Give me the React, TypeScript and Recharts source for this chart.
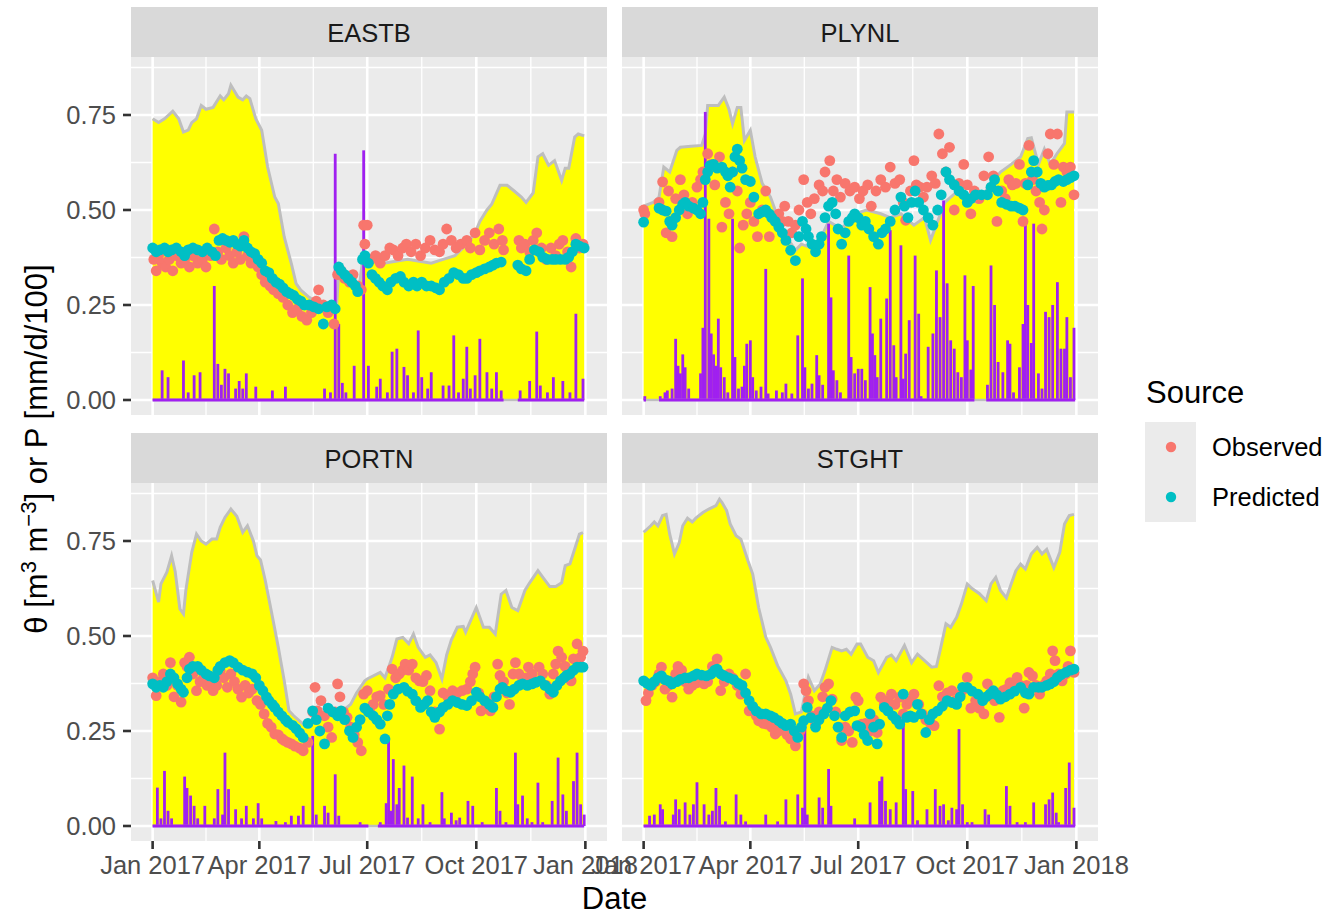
import React from 'react';
import {
  ComposedChart,
  Area,
  Bar,
  Scatter,
  XAxis,
  YAxis,
  CartesianGrid,
  ReferenceLine,
} from 'recharts';

const FONT = "'Liberation Sans', Arial, Helvetica, sans-serif";

// axis breaks (day of year, 0 = 1 Jan 2017)
const xTickDays = [0, 90, 181, 273, 365];
const xTickLabels = ['Jan 2017', 'Apr 2017', 'Jul 2017', 'Oct 2017', 'Jan 2018'];
const xMinorDays = [45, 135.5, 227, 319];
const yTicks = [0, 0.25, 0.5, 0.75];
const yMinor = [0.125, 0.375, 0.625, 0.875];
const X_DOMAIN = [-18.25, 383.25];
const Y_DOMAIN = [-0.0395, 0.9026];

type Pair = [number, number];

// ---- EASTB ----
const eastbSat: Pair[] = [[0,0.74],[5,0.73],[10,0.74],[17,0.76],[22,0.74],[26,0.705],[30,0.71],[33,0.73],[37,0.74],[41,0.775],[45,0.765],[51,0.77],[57,0.8],[60,0.79],[64,0.806],[66,0.828],[72,0.797],[76,0.79],[79,0.8],[82,0.793],[87,0.74],[92,0.71],[97,0.613],[103,0.534],[106,0.517],[111,0.429],[117,0.359],[121,0.306],[125,0.289],[132,0.27],[140,0.255],[148,0.245],[155,0.24],[157,0.34],[163,0.32],[170,0.3],[174,0.29],[178,0.39],[185,0.37],[195,0.36],[205,0.365],[215,0.37],[225,0.365],[235,0.36],[245,0.37],[255,0.38],[265,0.41],[272,0.44],[276,0.47],[282,0.5],[286,0.515],[293,0.565],[299,0.565],[305,0.55],[311,0.534],[315,0.52],[321,0.545],[325,0.64],[329,0.648],[334,0.618],[339,0.63],[345,0.578],[348,0.61],[351,0.61],[356,0.692],[359,0.7],[364,0.695]];
const eastbRain: Pair[] = [[8,0.078],[13,0.06],[26,0.104],[30,0.02],[35,0.065],[40,0.073],[52,0.3],[55,0.095],[58,0.04],[61,0.082],[64,0.07],[70,0.03],[73,0.05],[76,0.03],[79,0.07],[87,0.035],[101,0.025],[112,0.035],[145,0.03],[150,0.02],[154,0.648],[157,0.2],[160,0.045],[163,0.02],[170,0.09],[178,0.657],[182,0.09],[189,0.035],[192,0.056],[198,0.02],[202,0.127],[206,0.135],[212,0.087],[215,0.065],[220,0.02],[224,0.183],[227,0.06],[232,0.03],[235,0.073],[245,0.038],[250,0.038],[254,0.17],[258,0.02],[262,0.056],[265,0.14],[268,0.03],[272,0.065],[276,0.161],[282,0.073],[286,0.03],[290,0.073],[294,0.025],[310,0.025],[318,0.05],[324,0.18],[327,0.038],[333,0.02],[338,0.06],[346,0.05],[352,0.02],[357,0.227],[363,0.056]];
const eastbRainSpans: Pair[] = [[0,296],[308,364]];
const eastbObs: Pair[] = [[1,0.37],[3,0.34],[5,0.38],[8,0.36],[11,0.35],[14,0.37],[17,0.34],[20,0.38],[24,0.36],[27,0.37],[31,0.35],[34,0.38],[38,0.36],[42,0.37],[45,0.35],[49,0.38],[52,0.45],[55,0.39],[58,0.37],[62,0.4],[65,0.38],[68,0.36],[71,0.39],[74,0.37],[77,0.43],[80,0.38],[83,0.36],[86,0.37],[89,0.35],[92,0.33],[95,0.31],[99,0.3],[102,0.29],[106,0.28],[110,0.27],[114,0.25],[118,0.23],[122,0.24],[126,0.22],[130,0.21],[134,0.23],[138,0.26],[140,0.29],[144,0.25],[148,0.23],[153,0.2],[156,0.33],[159,0.34],[162,0.32],[166,0.31],[169,0.33],[173,0.3],[176,0.29],[178,0.46],[179,0.41],[181,0.46],[184,0.37],[188,0.38],[192,0.36],[196,0.38],[200,0.4],[203,0.395],[207,0.38],[211,0.4],[214,0.41],[218,0.39],[222,0.41],[226,0.38],[230,0.4],[234,0.42],[238,0.395],[242,0.39],[245,0.41],[248,0.45],[252,0.42],[256,0.4],[260,0.41],[265,0.42],[268,0.4],[272,0.44],[276,0.395],[280,0.42],[284,0.44],[288,0.41],[292,0.45],[295,0.42],[296,0.395],[309,0.42],[311,0.4],[314,0.41],[318,0.39],[321,0.42],[324,0.44],[328,0.4],[332,0.37],[336,0.4],[340,0.38],[343,0.41],[346,0.42],[350,0.39],[353,0.35],[357,0.425],[360,0.4],[363,0.41]];
const eastbPred: Pair[] = [[0,0.4],[3,0.39],[6,0.395],[10,0.4],[13,0.39],[16,0.395],[20,0.4],[24,0.39],[27,0.38],[30,0.395],[34,0.4],[38,0.395],[42,0.39],[46,0.4],[50,0.39],[53,0.38],[56,0.42],[59,0.425],[62,0.42],[65,0.415],[68,0.42],[71,0.41],[74,0.405],[77,0.42],[80,0.4],[83,0.39],[86,0.385],[89,0.37],[92,0.36],[95,0.34],[98,0.335],[101,0.32],[104,0.31],[107,0.305],[110,0.295],[113,0.285],[116,0.28],[119,0.275],[122,0.265],[125,0.26],[128,0.25],[132,0.25],[136,0.245],[140,0.24],[144,0.2],[147,0.245],[151,0.25],[154,0.24],[157,0.35],[159,0.34],[162,0.33],[165,0.32],[168,0.31],[171,0.3],[173,0.285],[177,0.37],[179,0.38],[182,0.36],[185,0.33],[188,0.32],[191,0.31],[194,0.3],[198,0.29],[201,0.31],[205,0.32],[209,0.325],[212,0.31],[216,0.3],[220,0.31],[223,0.3],[227,0.31],[231,0.3],[235,0.3],[239,0.295],[242,0.29],[246,0.31],[250,0.32],[254,0.335],[258,0.33],[262,0.32],[265,0.32],[269,0.33],[273,0.335],[276,0.34],[280,0.345],[284,0.35],[287,0.355],[290,0.36],[294,0.363],[308,0.355],[311,0.345],[315,0.34],[318,0.37],[322,0.395],[326,0.39],[329,0.376],[333,0.37],[337,0.37],[340,0.37],[344,0.37],[348,0.37],[351,0.376],[354,0.39],[357,0.41],[360,0.405],[364,0.4]];

// ---- PLYNL ----
const plynlSat: Pair[] = [[0,0.51],[8,0.52],[13,0.534],[17,0.613],[22,0.6],[28,0.657],[31,0.665],[40,0.668],[49,0.67],[52,0.7],[54,0.775],[63,0.775],[68,0.797],[72,0.765],[75,0.727],[79,0.77],[82,0.77],[85,0.683],[90,0.71],[94,0.64],[100,0.57],[107,0.534],[117,0.447],[128,0.394],[133,0.41],[142,0.4],[150,0.43],[156,0.47],[167,0.45],[178,0.49],[188,0.5],[200,0.49],[208,0.48],[217,0.49],[228,0.46],[237,0.48],[242,0.42],[248,0.47],[254,0.52],[265,0.55],[272,0.53],[282,0.52],[293,0.57],[301,0.6],[310,0.62],[318,0.64],[324,0.688],[327,0.69],[333,0.62],[338,0.66],[343,0.62],[349,0.65],[355,0.675],[357,0.758],[363,0.758]];
const plynlRain: Pair[] = [[1,0.01],[14,0.01],[18,0.02],[20,0.025],[24,0.03],[27,0.161],[29,0.09],[31,0.07],[33,0.12],[35,0.086],[38,0.03],[48,0.07],[50,0.19],[52,0.758],[55,0.477],[57,0.175],[59,0.12],[61,0.09],[63,0.214],[65,0.086],[68,0.06],[71,0.02],[75,0.477],[77,0.113],[80,0.03],[83,0.035],[85,0.09],[87,0.148],[90,0.157],[92,0.06],[95,0.025],[99,0.035],[103,0.345],[105,0.017],[112,0.025],[117,0.02],[120,0.043],[125,0.017],[130,0.17],[134,0.32],[136,0.086],[139,0.03],[142,0.043],[146,0.118],[148,0.065],[151,0.04],[156,0.464],[158,0.27],[160,0.078],[163,0.052],[166,0.02],[173,0.38],[175,0.113],[178,0.07],[181,0.082],[184,0.082],[187,0.052],[191,0.297],[193,0.175],[195,0.118],[197,0.06],[200,0.214],[205,0.267],[208,0.447],[211,0.144],[213,0.06],[217,0.407],[219,0.056],[221,0.122],[224,0.21],[229,0.38],[232,0.227],[234,0.01],[240,0.14],[244,0.175],[247,0.341],[250,0.218],[253,0.525],[256,0.307],[259,0.157],[262,0.135],[265,0.073],[268,0.06],[271,0.328],[273,0.157],[276,0.08],[278,0.3],[290,0.04],[293,0.354],[296,0.25],[299,0.1],[303,0.073],[307,0.157],[309,0.148],[312,0.02],[317,0.086],[320,0.2],[322,0.464],[324,0.25],[327,0.15],[329,0.464],[333,0.07],[336,0.03],[339,0.232],[342,0.218],[345,0.25],[349,0.31],[352,0.135],[355,0.135],[357,0.218],[360,0.06],[363,0.19]];
const plynlRainSpans: Pair[] = [[0,2],[13,279],[289,364]];
const plynlObs: Pair[] = [[0,0.5],[1,0.49],[13,0.52],[16,0.574],[19,0.44],[21,0.55],[24,0.43],[27,0.53],[31,0.58],[34,0.54],[37,0.49],[41,0.52],[45,0.56],[48,0.58],[50,0.6],[54,0.648],[57,0.62],[60,0.566],[64,0.64],[66,0.455],[69,0.52],[72,0.49],[75,0.6],[79,0.55],[81,0.4],[84,0.46],[87,0.49],[90,0.52],[93,0.47],[96,0.43],[100,0.5],[103,0.55],[106,0.43],[110,0.48],[114,0.49],[117,0.47],[119,0.51],[122,0.47],[125,0.44],[128,0.46],[131,0.5],[135,0.58],[138,0.52],[141,0.49],[144,0.53],[148,0.566],[151,0.55],[153,0.6],[157,0.63],[160,0.55],[163,0.58],[166,0.534],[170,0.57],[174,0.55],[178,0.56],[182,0.53],[185,0.55],[189,0.566],[192,0.51],[196,0.55],[200,0.58],[204,0.56],[208,0.613],[212,0.57],[216,0.58],[219,0.52],[221,0.473],[225,0.55],[228,0.63],[230,0.566],[233,0.56],[236,0.534],[239,0.56],[243,0.59],[246,0.57],[249,0.7],[252,0.648],[255,0.6],[258,0.665],[262,0.5],[266,0.57],[270,0.62],[273,0.566],[276,0.49],[279,0.55],[283,0.53],[287,0.59],[291,0.64],[295,0.59],[298,0.47],[302,0.55],[305,0.53],[308,0.58],[311,0.566],[314,0.57],[317,0.62],[320,0.47],[322,0.57],[325,0.67],[328,0.58],[331,0.55],[334,0.52],[336,0.45],[338,0.5],[341,0.648],[343,0.7],[346,0.62],[349,0.7],[352,0.52],[354,0.613],[357,0.6],[360,0.613],[363,0.54]];
const plynlPred: Pair[] = [[0,0.468],[13,0.505],[16,0.5],[19,0.497],[22,0.47],[24,0.46],[27,0.48],[30,0.5],[33,0.515],[35,0.52],[38,0.51],[42,0.505],[45,0.5],[48,0.49],[50,0.52],[52,0.58],[54,0.6],[56,0.617],[59,0.62],[62,0.61],[66,0.613],[69,0.6],[71,0.59],[73,0.56],[75,0.6],[77,0.64],[79,0.66],[81,0.63],[83,0.61],[86,0.58],[90,0.575],[93,0.534],[97,0.49],[100,0.495],[103,0.5],[106,0.49],[108,0.48],[111,0.47],[114,0.455],[117,0.44],[120,0.42],[124,0.394],[128,0.367],[131,0.43],[134,0.47],[137,0.45],[139,0.43],[142,0.41],[145,0.39],[148,0.41],[150,0.43],[153,0.48],[156,0.51],[159,0.52],[162,0.49],[164,0.45],[167,0.41],[170,0.44],[173,0.47],[176,0.48],[178,0.49],[181,0.48],[184,0.46],[187,0.47],[190,0.45],[194,0.43],[198,0.41],[201,0.44],[204,0.45],[208,0.47],[212,0.5],[217,0.534],[220,0.51],[223,0.48],[226,0.52],[229,0.55],[232,0.52],[236,0.5],[240,0.48],[244,0.46],[248,0.5],[251,0.54],[255,0.6],[258,0.58],[262,0.566],[266,0.55],[270,0.54],[273,0.52],[276,0.53],[280,0.54],[285,0.54],[290,0.54],[293,0.56],[296,0.58],[299,0.55],[302,0.52],[306,0.515],[310,0.51],[313,0.51],[317,0.505],[320,0.5],[324,0.566],[327,0.6],[329,0.63],[332,0.6],[335,0.57],[338,0.56],[341,0.565],[344,0.566],[347,0.575],[350,0.58],[354,0.575],[357,0.58],[360,0.585],[363,0.59]];

// ---- PORTN ----
const portnSat: Pair[] = [[0,0.646],[5,0.589],[7,0.637],[12,0.668],[16,0.711],[19,0.67],[23,0.571],[26,0.558],[28,0.62],[33,0.72],[37,0.768],[41,0.75],[45,0.742],[50,0.755],[54,0.755],[57,0.786],[61,0.812],[66,0.834],[71,0.815],[76,0.773],[80,0.79],[85,0.75],[88,0.711],[91,0.7],[95,0.646],[100,0.567],[106,0.47],[111,0.382],[115,0.303],[119,0.29],[127,0.268],[135,0.28],[145,0.295],[155,0.3],[163,0.31],[167,0.32],[172,0.35],[179,0.382],[181,0.387],[192,0.404],[196,0.39],[202,0.444],[206,0.492],[211,0.496],[216,0.48],[220,0.505],[224,0.47],[230,0.444],[234,0.45],[239,0.43],[244,0.387],[248,0.45],[252,0.49],[257,0.523],[262,0.525],[264,0.51],[273,0.575],[279,0.523],[284,0.523],[289,0.505],[294,0.61],[298,0.62],[303,0.575],[308,0.567],[314,0.62],[318,0.64],[325,0.672],[329,0.655],[335,0.63],[340,0.63],[345,0.64],[348,0.685],[352,0.69],[356,0.729],[360,0.768],[363,0.772]];
const portnRain: Pair[] = [[4,0.101],[7,0.02],[10,0.145],[13,0.04],[16,0.02],[27,0.13],[29,0.1],[32,0.08],[35,0.053],[38,0.02],[44,0.053],[52,0.02],[55,0.097],[59,0.03],[61,0.193],[64,0.097],[70,0.044],[75,0.02],[79,0.053],[85,0.02],[89,0.06],[92,0.02],[104,0.013],[112,0.01],[117,0.027],[123,0.027],[127,0.053],[135,0.237],[138,0.03],[145,0.053],[148,0.035],[154,0.136],[157,0.027],[175,0.01],[192,0.01],[197,0.06],[199,0.233],[201,0.04],[203,0.176],[206,0.057],[208,0.1],[212,0.159],[215,0.022],[219,0.13],[224,0.02],[228,0.057],[234,0.01],[244,0.089],[246,0.02],[252,0.035],[256,0.015],[259,0.022],[266,0.066],[270,0.053],[278,0.01],[290,0.1],[293,0.04],[298,0.01],[306,0.193],[308,0.057],[312,0.08],[316,0.02],[320,0.01],[325,0.114],[329,0.01],[337,0.066],[342,0.18],[346,0.083],[349,0.04],[355,0.118],[358,0.193],[361,0.057],[364,0.03]];
const portnRainSpans: Pair[] = [[0,182],[190,364]];
const portnObs: Pair[] = [[0,0.39],[3,0.343],[6,0.38],[9,0.4],[12,0.37],[15,0.43],[18,0.34],[21,0.37],[24,0.326],[27,0.43],[29,0.42],[31,0.444],[34,0.4],[37,0.356],[40,0.38],[43,0.39],[46,0.37],[49,0.38],[51,0.356],[54,0.37],[57,0.408],[60,0.39],[63,0.365],[66,0.4],[69,0.38],[72,0.36],[75,0.339],[78,0.37],[81,0.35],[84,0.36],[88,0.33],[91,0.32],[94,0.295],[97,0.27],[100,0.26],[103,0.242],[106,0.24],[109,0.23],[111,0.225],[114,0.22],[117,0.216],[120,0.21],[124,0.205],[127,0.198],[131,0.22],[135,0.3],[137,0.365],[139,0.303],[142,0.33],[145,0.29],[148,0.26],[151,0.233],[154,0.3],[156,0.374],[158,0.34],[161,0.3],[164,0.286],[167,0.26],[170,0.24],[173,0.22],[176,0.198],[178,0.347],[181,0.356],[183,0.303],[186,0.32],[189,0.34],[192,0.343],[195,0.32],[199,0.36],[202,0.413],[205,0.39],[208,0.4],[211,0.41],[213,0.426],[216,0.41],[219,0.426],[222,0.39],[225,0.382],[228,0.38],[231,0.396],[234,0.356],[238,0.3],[242,0.255],[245,0.35],[249,0.34],[253,0.356],[257,0.35],[261,0.356],[265,0.36],[268,0.38],[270,0.4],[272,0.418],[275,0.35],[277,0.303],[281,0.31],[285,0.303],[288,0.34],[291,0.426],[293,0.396],[296,0.38],[299,0.35],[301,0.32],[304,0.4],[306,0.43],[309,0.4],[312,0.38],[315,0.39],[317,0.418],[320,0.4],[323,0.38],[326,0.418],[329,0.4],[332,0.37],[335,0.347],[338,0.4],[340,0.426],[342,0.46],[345,0.444],[348,0.42],[351,0.4],[353,0.382],[355,0.44],[358,0.479],[361,0.444],[363,0.46]];
const portnPred: Pair[] = [[0,0.374],[3,0.365],[6,0.37],[9,0.365],[12,0.38],[15,0.4],[18,0.39],[21,0.374],[24,0.36],[26,0.352],[29,0.39],[31,0.413],[34,0.42],[38,0.42],[41,0.41],[45,0.4],[48,0.395],[52,0.39],[55,0.41],[57,0.42],[61,0.43],[65,0.435],[68,0.43],[72,0.418],[76,0.41],[80,0.405],[84,0.4],[87,0.39],[90,0.37],[93,0.356],[96,0.34],[98,0.33],[101,0.32],[103,0.312],[106,0.3],[109,0.29],[112,0.28],[114,0.273],[118,0.265],[121,0.256],[124,0.245],[127,0.233],[131,0.27],[135,0.303],[138,0.28],[141,0.25],[145,0.216],[148,0.31],[152,0.3],[156,0.29],[159,0.303],[162,0.28],[166,0.25],[169,0.233],[172,0.26],[175,0.28],[179,0.31],[182,0.3],[186,0.29],[189,0.28],[192,0.268],[196,0.229],[198,0.29],[200,0.32],[203,0.347],[207,0.36],[212,0.365],[215,0.355],[219,0.347],[222,0.33],[226,0.312],[229,0.32],[232,0.33],[235,0.3],[238,0.286],[242,0.3],[245,0.312],[249,0.32],[253,0.33],[257,0.325],[261,0.32],[265,0.317],[269,0.33],[273,0.352],[276,0.34],[280,0.33],[284,0.32],[287,0.312],[290,0.34],[293,0.36],[295,0.365],[299,0.355],[302,0.352],[305,0.36],[309,0.37],[312,0.374],[316,0.37],[320,0.374],[323,0.378],[327,0.382],[331,0.37],[335,0.36],[338,0.352],[341,0.37],[344,0.382],[347,0.39],[349,0.396],[352,0.4],[355,0.41],[358,0.418],[361,0.418],[363,0.418]];

// ---- STGHT ----
const stghtSat: Pair[] = [[0,0.773],[6,0.79],[9,0.8],[12,0.79],[16,0.817],[19,0.82],[22,0.768],[26,0.716],[30,0.745],[33,0.79],[37,0.81],[41,0.8],[44,0.81],[50,0.825],[55,0.834],[61,0.843],[64,0.86],[66,0.852],[70,0.83],[73,0.795],[78,0.764],[82,0.755],[88,0.698],[92,0.663],[97,0.575],[103,0.497],[107,0.47],[113,0.422],[120,0.382],[124,0.347],[128,0.295],[133,0.3],[139,0.391],[144,0.356],[149,0.374],[153,0.409],[159,0.47],[163,0.465],[167,0.461],[171,0.465],[175,0.452],[180,0.479],[183,0.479],[189,0.444],[194,0.435],[198,0.404],[205,0.444],[209,0.45],[213,0.435],[220,0.475],[226,0.43],[231,0.452],[237,0.435],[243,0.418],[247,0.42],[250,0.461],[255,0.532],[259,0.523],[264,0.549],[268,0.584],[273,0.637],[277,0.625],[283,0.612],[289,0.593],[293,0.637],[297,0.654],[301,0.62],[306,0.6],[310,0.637],[314,0.672],[318,0.689],[322,0.676],[327,0.716],[332,0.733],[336,0.716],[340,0.728],[346,0.68],[351,0.72],[355,0.795],[359,0.817],[363,0.82]];
const stghtRain: Pair[] = [[5,0.027],[9,0.03],[14,0.057],[16,0.044],[25,0.03],[27,0.07],[30,0.044],[35,0.062],[39,0.03],[42,0.057],[45,0.115],[51,0.057],[55,0.03],[58,0.04],[61,0.1],[64,0.053],[69,0.012],[78,0.083],[82,0.03],[86,0.012],[103,0.03],[113,0.012],[120,0.07],[130,0.083],[134,0.048],[136,0.268],[138,0.03],[148,0.075],[151,0.048],[156,0.15],[158,0.053],[178,0.02],[191,0.062],[199,0.118],[201,0.13],[204,0.066],[208,0.044],[213,0.062],[219,0.286],[221,0.097],[227,0.092],[231,0.015],[239,0.044],[246,0.097],[250,0.053],[253,0.057],[257,0.015],[260,0.048],[264,0.044],[266,0.255],[269,0.057],[273,0.01],[277,0.01],[288,0.044],[291,0.03],[306,0.105],[309,0.053],[315,0.01],[322,0.01],[329,0.062],[339,0.057],[342,0.07],[345,0.088],[348,0.035],[350,0.01],[356,0.1],[359,0.167],[363,0.048]];
const stghtRainSpans: Pair[] = [[0,364]];
const stghtObs: Pair[] = [[2,0.33],[4,0.35],[7,0.37],[10,0.38],[13,0.4],[15,0.418],[18,0.36],[21,0.37],[24,0.339],[27,0.4],[29,0.42],[32,0.41],[35,0.38],[38,0.36],[41,0.37],[45,0.377],[48,0.39],[51,0.374],[54,0.38],[58,0.42],[62,0.44],[65,0.356],[68,0.38],[72,0.4],[75,0.39],[79,0.37],[82,0.347],[86,0.4],[89,0.303],[92,0.31],[95,0.29],[97,0.277],[101,0.27],[104,0.268],[108,0.26],[111,0.242],[114,0.25],[117,0.268],[121,0.24],[124,0.229],[128,0.211],[132,0.25],[135,0.374],[137,0.356],[139,0.33],[142,0.29],[145,0.268],[148,0.3],[151,0.34],[153,0.365],[156,0.374],[159,0.334],[162,0.3],[165,0.26],[167,0.225],[170,0.26],[173,0.25],[176,0.22],[179,0.339],[181,0.33],[184,0.268],[187,0.27],[191,0.25],[194,0.28],[197,0.246],[200,0.339],[203,0.32],[206,0.33],[209,0.347],[212,0.32],[216,0.339],[219,0.295],[222,0.32],[225,0.33],[228,0.347],[232,0.32],[235,0.295],[238,0.28],[242,0.27],[245,0.264],[249,0.369],[252,0.34],[256,0.35],[260,0.356],[263,0.33],[267,0.347],[270,0.36],[273,0.391],[276,0.31],[280,0.33],[283,0.31],[287,0.295],[290,0.374],[293,0.35],[296,0.33],[300,0.286],[303,0.356],[306,0.36],[309,0.377],[312,0.37],[315,0.391],[318,0.37],[321,0.31],[323,0.37],[325,0.404],[328,0.395],[331,0.37],[334,0.347],[337,0.37],[340,0.382],[343,0.4],[345,0.461],[347,0.435],[350,0.4],[353,0.382],[356,0.4],[358,0.42],[360,0.461],[363,0.404]];
const stghtPred: Pair[] = [[0,0.382],[3,0.375],[6,0.37],[9,0.38],[12,0.39],[15,0.395],[18,0.385],[21,0.382],[24,0.374],[28,0.38],[31,0.386],[35,0.39],[38,0.39],[42,0.395],[45,0.4],[49,0.397],[53,0.395],[57,0.4],[60,0.41],[62,0.413],[65,0.4],[68,0.395],[72,0.39],[76,0.385],[80,0.375],[83,0.37],[86,0.35],[89,0.33],[92,0.315],[95,0.303],[99,0.295],[103,0.295],[107,0.29],[110,0.285],[114,0.277],[117,0.27],[120,0.264],[124,0.268],[127,0.25],[130,0.233],[133,0.26],[135,0.277],[138,0.312],[141,0.285],[145,0.26],[148,0.28],[152,0.295],[155,0.31],[158,0.33],[161,0.29],[164,0.26],[167,0.233],[170,0.29],[174,0.3],[178,0.303],[180,0.264],[183,0.26],[186,0.24],[189,0.225],[191,0.295],[194,0.26],[197,0.216],[199,0.268],[203,0.312],[206,0.303],[210,0.29],[213,0.28],[216,0.268],[219,0.347],[222,0.286],[225,0.29],[228,0.286],[231,0.32],[234,0.295],[238,0.246],[241,0.28],[244,0.295],[248,0.303],[252,0.315],[256,0.33],[260,0.325],[264,0.32],[267,0.34],[269,0.365],[273,0.365],[277,0.355],[282,0.347],[286,0.33],[289,0.34],[292,0.347],[295,0.356],[298,0.345],[301,0.334],[305,0.34],[309,0.347],[313,0.355],[318,0.365],[322,0.35],[325,0.347],[329,0.365],[333,0.365],[336,0.365],[340,0.37],[343,0.374],[346,0.38],[349,0.391],[352,0.398],[356,0.404],[360,0.41],[363,0.413]];

const panels = [
  { name: 'EASTB', col: 0, row: 0, sat: eastbSat, rain: eastbRain, spans: eastbRainSpans, obs: eastbObs, pred: eastbPred },
  { name: 'PLYNL', col: 1, row: 0, sat: plynlSat, rain: plynlRain, spans: plynlRainSpans, obs: plynlObs, pred: plynlPred },
  { name: 'PORTN', col: 0, row: 1, sat: portnSat, rain: portnRain, spans: portnRainSpans, obs: portnObs, pred: portnPred },
  { name: 'STGHT', col: 1, row: 1, sat: stghtSat, rain: stghtRain, spans: stghtRainSpans, obs: stghtObs, pred: stghtPred },
];

const OBS_COLOR = '#F8766D';
const PRED_COLOR = '#00BFC4';
const RAIN_COLOR = '#A020F0';

const toRows = (pairs: Pair[], key: string) => pairs.map(([d, v]) => ({ day: d, [key]: v }));

const dot = (color: string) => (props: any) =>
  props.cx == null ? <g /> : <circle cx={props.cx} cy={props.cy} r={5.4} fill={color} />;

// one-day column, fixed pixel width, centred on the library's bar position
const RAIN_W = 2.8;
const rainBar = (props: any) => {
  const { x, y, width, height } = props;
  if (x == null || !height) return <g />;
  return <rect x={x + width / 2 - RAIN_W / 2} y={y} width={RAIN_W} height={height} fill={RAIN_COLOR} />;
};

const PLOT_W = 476;
const PLOT_H = 358;
const COL_X = [131, 622];
const ROW_Y = [57, 483];
const STRIP_H = 50;

const tickStyle = { fill: '#4D4D4D', fontSize: 25.5, fontFamily: FONT };
const tickLineStyle = { stroke: '#333333', strokeWidth: 2.6 };

function Panel({ p }: { p: (typeof panels)[number] }) {
  const showY = p.col === 0;
  const showX = p.row === 1;
  const yW = showY ? COL_X[0] : 0;
  const xH = showX ? 915 - (ROW_Y[1] + PLOT_H) : 0;
  const W = PLOT_W + yW;
  const H = PLOT_H + xH;
  const left = COL_X[p.col] - yW;
  const top = ROW_Y[p.row];
  const satRows = toRows(p.sat, 'v');
  const first = p.sat[0][0];
  const last = p.sat[p.sat.length - 1][0];

  return (
    <>
      <div
        style={{
          position: 'absolute',
          left: COL_X[p.col],
          top: top - STRIP_H,
          width: PLOT_W,
          height: STRIP_H,
          background: '#D9D9D9',
          color: '#1A1A1A',
          fontFamily: FONT,
          fontSize: 25.5,
          lineHeight: `${STRIP_H}px`,
          textAlign: 'center',
          paddingTop: 1,
          boxSizing: 'border-box',
        }}
      >
        {p.name}
      </div>
      <div style={{ position: 'absolute', left, top, width: W, height: H }}>
        <ComposedChart
          width={W}
          height={H}
          data={toRows(p.rain, 'rain')}
          margin={{ top: 0, right: 0, bottom: 0, left: 0 }}
        >
          <CartesianGrid
            fill="#EBEBEB"
            fillOpacity={1}
            stroke="#FFFFFF"
            strokeWidth={1.3}
            horizontalValues={yMinor}
            verticalValues={xMinorDays}
          />
          <CartesianGrid
            stroke="#FFFFFF"
            strokeWidth={2.6}
            horizontalValues={yTicks}
            verticalValues={xTickDays}
          />
          <XAxis
            type="number"
            dataKey="day"
            domain={X_DOMAIN}
            allowDataOverflow
            ticks={xTickDays}
            interval={0}
            tickFormatter={(d: number) => xTickLabels[xTickDays.indexOf(d)] ?? ''}
            hide={!showX}
            height={xH || 1}
            axisLine={false}
            tickLine={tickLineStyle}
            tickSize={8}
            tickMargin={7}
            tick={tickStyle}
          />
          <YAxis
            type="number"
            domain={Y_DOMAIN}
            allowDataOverflow
            ticks={yTicks}
            interval={0}
            tickFormatter={(v: number) => v.toFixed(2)}
            hide={!showY}
            width={yW || 1}
            axisLine={false}
            tickLine={tickLineStyle}
            tickSize={8}
            tickMargin={7}
            tick={tickStyle}
          />
          <Area
            data={satRows}
            dataKey="v"
            type="linear"
            baseValue={0}
            stroke="#BEBEBE"
            strokeWidth={3}
            fill="#FFFF00"
            fillOpacity={1}
            isAnimationActive={false}
            dot={false}
            activeDot={false}
          />
          <ReferenceLine
            segment={[{ x: first, y: 0 }, { x: last, y: 0 }]}
            stroke="#BEBEBE"
            strokeWidth={2.5}
          />
          {p.spans.map(([a, b], i) => (
            <ReferenceLine
              key={i}
              segment={[{ x: a, y: 0 }, { x: b, y: 0 }]}
              stroke={RAIN_COLOR}
              strokeWidth={3}
            />
          ))}
          <Bar dataKey="rain" fill={RAIN_COLOR} shape={rainBar} isAnimationActive={false} />
          <Scatter data={toRows(p.obs, 'v')} dataKey="v" shape={dot(OBS_COLOR)} isAnimationActive={false} />
          <Scatter data={toRows(p.pred, 'v')} dataKey="v" shape={dot(PRED_COLOR)} isAnimationActive={false} />
        </ComposedChart>
      </div>
    </>
  );
}

export default function App() {
  return (
    <div
      style={{
        position: 'absolute',
        left: 0,
        top: 0,
        width: 1341,
        height: 915,
        background: '#FFFFFF',
        overflow: 'hidden',
        fontFamily: FONT,
      }}
    >
      <style>{`.recharts-surface{overflow:visible}`}</style>
      {panels.map((p) => (
        <Panel key={p.name} p={p} />
      ))}
      <svg
        width={1341}
        height={915}
        style={{ position: 'absolute', left: 0, top: 0, pointerEvents: 'none' }}
      >
        <text
          transform="translate(47,449) rotate(-90)"
          textAnchor="middle"
          fontSize={31}
          fontFamily={FONT}
          fill="#000000"
        >
          θ [m<tspan fontSize={22} dy={-11}>3</tspan>
          <tspan dy={11}> m</tspan>
          <tspan fontSize={22} dy={-11}>−3</tspan>
          <tspan dy={11}>] or P [mm/d/100]</tspan>
        </text>
        <text x={614.5} y={909} textAnchor="middle" fontSize={31} fontFamily={FONT} fill="#000000">
          Date
        </text>
        <text x={1146} y={403} fontSize={31} fontFamily={FONT} fill="#000000">
          Source
        </text>
        <rect x={1145} y={422} width={51} height={50} fill="#EBEBEB" />
        <rect x={1145} y={472} width={51} height={50} fill="#EBEBEB" />
        <circle cx={1171} cy={447} r={5.2} fill={OBS_COLOR} />
        <circle cx={1171} cy={497} r={5.2} fill={PRED_COLOR} />
        <text x={1212} y={456} fontSize={25.5} fontFamily={FONT} fill="#000000">
          Observed
        </text>
        <text x={1212} y={506} fontSize={25.5} fontFamily={FONT} fill="#000000">
          Predicted
        </text>
      </svg>
    </div>
  );
}
